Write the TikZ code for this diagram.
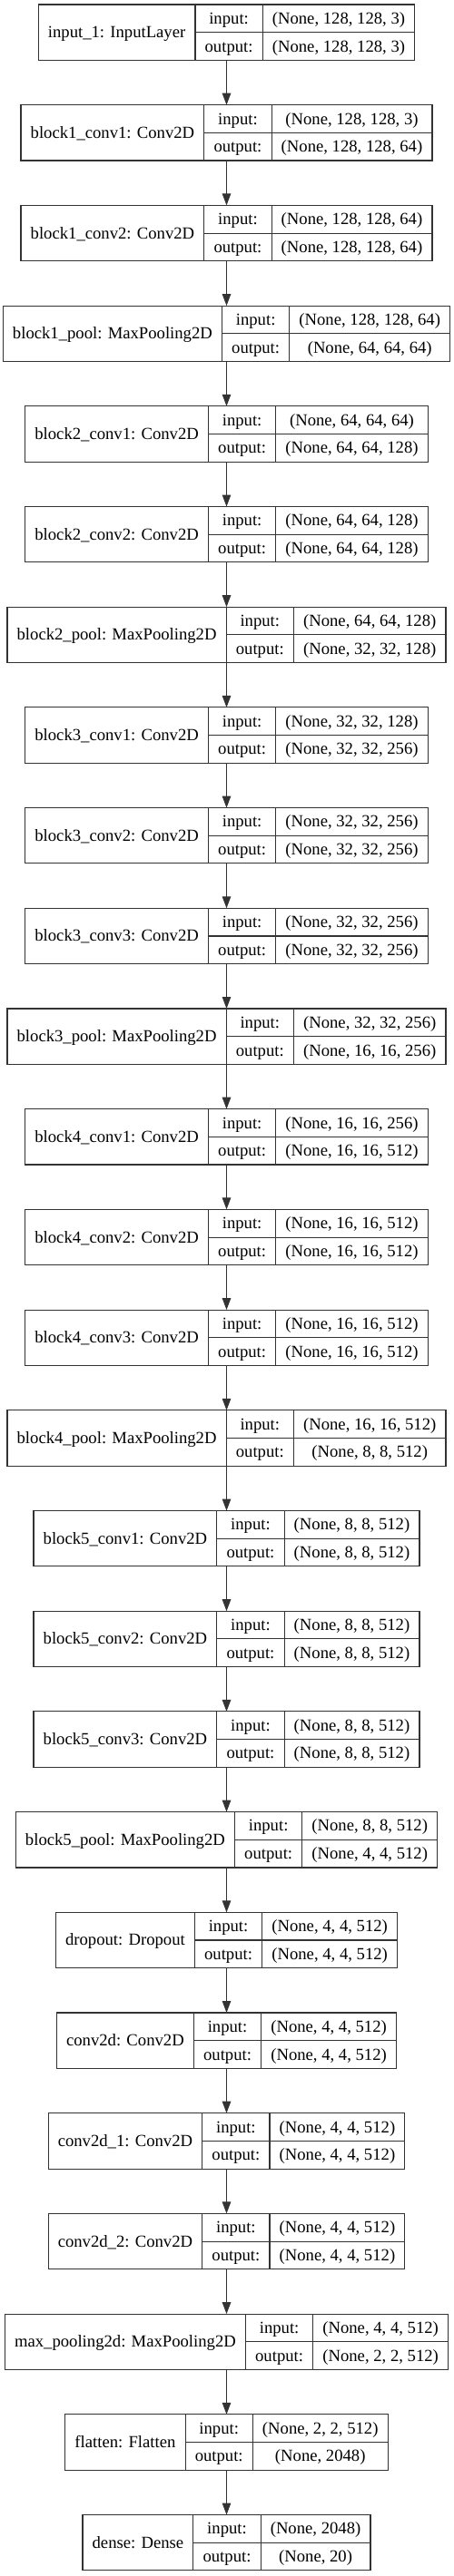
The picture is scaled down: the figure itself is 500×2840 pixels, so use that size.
\documentclass[tikz,border=0pt]{standalone}
\usepackage{fontspec}
\setmainfont{Liberation Serif}
\usetikzlibrary{arrows.meta}
\newcommand\lyrfont{\fontsize{18.67}{22}\selectfont}
\newlength\LW \newlength\SWa \newlength\SWb \newlength\IW
\tikzset{
  lyrbox/.style={draw=black!80, line width=1.1pt, inner sep=0pt, outer sep=0pt, anchor=north west},
  divline/.style={draw=black!80, line width=1.1pt},
  txt/.style={inner sep=0pt, anchor=base, font=\lyrfont, text=black},
  edge/.style={draw=black!80, line width=1.1pt, -{Triangle[length=13pt,width=9.5pt]}}
}
% measuring pass (outside the picture)
\newcommand\measurelayer[4]{%
  \settowidth\LW{\lyrfont #2}%
  \settowidth\SWa{\lyrfont #3}%
  \settowidth\SWb{\lyrfont #4}%
  \pgfmathsetmacro\tmpa{\LW}%
  \expandafter\xdef\csname lyrlw#1\endcsname{\tmpa}%
  \pgfmathsetmacro\tmpb{max(\SWa,\SWb)}%
  \expandafter\xdef\csname lyrsw#1\endcsname{\tmpb}%
}
% drawing pass (inside the picture)
\newcommand\drawlayer[4]{%
  \pgfmathsetmacro\wl{\csname lyrlw#1\endcsname+21.33}%
  \pgfmathsetmacro\wi{\iwidth+21.33}%
  \pgfmathsetmacro\ws{\csname lyrsw#1\endcsname+21.33}%
  \pgfmathsetmacro\W{\wl+\wi+\ws}%
  \pgfmathsetmacro\xl{249.5-\W/2}%
  \pgfmathsetmacro\ytop{-(5+110.7*#1)}%
  \pgfmathsetmacro\hl{\wl/2}%
  \pgfmathsetmacro\xa{\wl}%
  \pgfmathsetmacro\xb{\wl+\wi}%
  \pgfmathsetmacro\hi{\wl+\wi/2}%
  \pgfmathsetmacro\hs{\wl+\wi+\ws/2}%
  \node[lyrbox, minimum width=\W pt, minimum height=61.33pt] (L#1) at (\xl,\ytop) {};
  \draw[divline] ([xshift=\xa pt]L#1.north west) -- ([xshift=\xa pt]L#1.south west);
  \draw[divline] ([xshift=\xb pt]L#1.north west) -- ([xshift=\xb pt]L#1.south west);
  \draw[divline] ([xshift=\xa pt]L#1.west) -- (L#1.east);
  \node[txt] (L#1-l) at ([xshift=\hl pt, yshift=-6pt]L#1.west) {#2};
  \node[txt] (L#1-i) at ([xshift=\hi pt, yshift=-21.33pt]L#1.north west) {input:};
  \node[txt] (L#1-o) at ([xshift=\hi pt, yshift=-52pt]L#1.north west) {output:};
  \node[txt] (L#1-is) at ([xshift=\hs pt, yshift=-21.33pt]L#1.north west) {#3};
  \node[txt] (L#1-os) at ([xshift=\hs pt, yshift=-52pt]L#1.north west) {#4};
}
\newcommand\alllayers{%
\lyr{0}{input\_1: InputLayer}{(None, 128, 128, 3)}{(None, 128, 128, 3)}%
\lyr{1}{block1\_conv1: Conv2D}{(None, 128, 128, 3)}{(None, 128, 128, 64)}%
\lyr{2}{block1\_conv2: Conv2D}{(None, 128, 128, 64)}{(None, 128, 128, 64)}%
\lyr{3}{block1\_pool: MaxPooling2D}{(None, 128, 128, 64)}{(None, 64, 64, 64)}%
\lyr{4}{block2\_conv1: Conv2D}{(None, 64, 64, 64)}{(None, 64, 64, 128)}%
\lyr{5}{block2\_conv2: Conv2D}{(None, 64, 64, 128)}{(None, 64, 64, 128)}%
\lyr{6}{block2\_pool: MaxPooling2D}{(None, 64, 64, 128)}{(None, 32, 32, 128)}%
\lyr{7}{block3\_conv1: Conv2D}{(None, 32, 32, 128)}{(None, 32, 32, 256)}%
\lyr{8}{block3\_conv2: Conv2D}{(None, 32, 32, 256)}{(None, 32, 32, 256)}%
\lyr{9}{block3\_conv3: Conv2D}{(None, 32, 32, 256)}{(None, 32, 32, 256)}%
\lyr{10}{block3\_pool: MaxPooling2D}{(None, 32, 32, 256)}{(None, 16, 16, 256)}%
\lyr{11}{block4\_conv1: Conv2D}{(None, 16, 16, 256)}{(None, 16, 16, 512)}%
\lyr{12}{block4\_conv2: Conv2D}{(None, 16, 16, 512)}{(None, 16, 16, 512)}%
\lyr{13}{block4\_conv3: Conv2D}{(None, 16, 16, 512)}{(None, 16, 16, 512)}%
\lyr{14}{block4\_pool: MaxPooling2D}{(None, 16, 16, 512)}{(None, 8, 8, 512)}%
\lyr{15}{block5\_conv1: Conv2D}{(None, 8, 8, 512)}{(None, 8, 8, 512)}%
\lyr{16}{block5\_conv2: Conv2D}{(None, 8, 8, 512)}{(None, 8, 8, 512)}%
\lyr{17}{block5\_conv3: Conv2D}{(None, 8, 8, 512)}{(None, 8, 8, 512)}%
\lyr{18}{block5\_pool: MaxPooling2D}{(None, 8, 8, 512)}{(None, 4, 4, 512)}%
\lyr{19}{dropout: Dropout}{(None, 4, 4, 512)}{(None, 4, 4, 512)}%
\lyr{20}{conv2d: Conv2D}{(None, 4, 4, 512)}{(None, 4, 4, 512)}%
\lyr{21}{conv2d\_1: Conv2D}{(None, 4, 4, 512)}{(None, 4, 4, 512)}%
\lyr{22}{conv2d\_2: Conv2D}{(None, 4, 4, 512)}{(None, 4, 4, 512)}%
\lyr{23}{max\_pooling2d: MaxPooling2D}{(None, 4, 4, 512)}{(None, 2, 2, 512)}%
\lyr{24}{flatten: Flatten}{(None, 2, 2, 512)}{(None, 2048)}%
\lyr{25}{dense: Dense}{(None, 2048)}{(None, 20)}%
}
\begin{document}
\settowidth\IW{\lyrfont output:}%
\pgfmathsetmacro\tmpc{\IW}%
\xdef\iwidth{\tmpc}%
\let\lyr\measurelayer
\alllayers
\begin{tikzpicture}[x=1pt,y=1pt]
\fill[white] (0,0) rectangle (500,-2840);
\useasboundingbox (0,0) rectangle (500,-2840);
\let\lyr\drawlayer
\alllayers
\foreach \a [evaluate=\a as \b using int(\a+1)] in {0,...,24} {
  \draw[edge] (L\a.south) -- (L\b.north);
}
\end{tikzpicture}
\end{document}
